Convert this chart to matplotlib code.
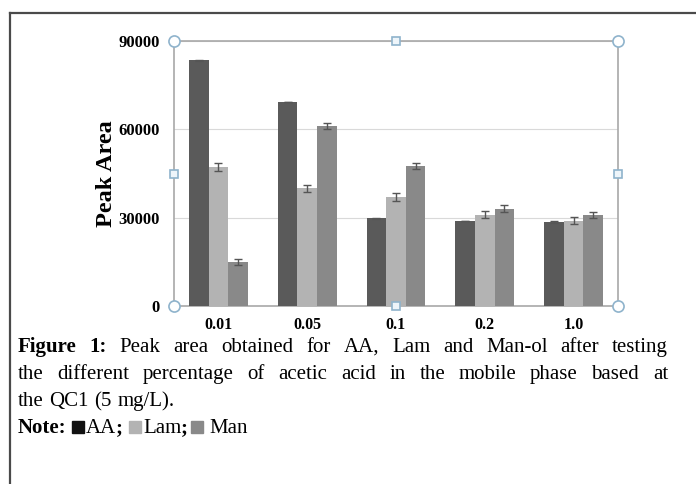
import numpy as np
import matplotlib
matplotlib.use('Agg')
import matplotlib.pyplot as plt
from matplotlib.lines import Line2D
from matplotlib.patches import Rectangle

# data
categories = ['0.01', '0.05', '0.1', '0.2', '1.0']
aa = [83500, 69200, 29800, 28800, 28500]
lam = [47200, 40000, 37000, 31000, 29000]
man = [15000, 61000, 47500, 33000, 31000]
aa_err = [200, 0, 200, 0, 200]
lam_err = [1500, 1200, 1500, 1200, 1200]
man_err = [1100, 1000, 1000, 1200, 1000]

series = [('AA', aa, aa_err, '#5a5a5a'),
          ('Lam', lam, lam_err, '#b3b3b3'),
          ('Man', man, man_err, '#898989')]

serif = 'Liberation Serif'

fig = plt.figure(figsize=(6.96, 4.84), dpi=100)
ax = fig.add_axes([174/696, 1 - 306/484, 444/696, 265/484])

x = np.arange(len(categories))
w = 0.22
for i, (name, vals, err, col) in enumerate(series):
    ax.bar(x + (i - 1)*w, vals, w, color=col, yerr=err, capsize=3,
           error_kw=dict(ecolor='#555555', elinewidth=1, capthick=1), zorder=3)

ax.set_xlim(-0.5, len(categories) - 0.5)
ax.set_ylim(0, 90000)
ax.set_yticks([0, 30000, 60000, 90000])
ax.set_yticklabels(['0', '30000', '60000', '90000'], fontfamily=serif,
                   fontweight='bold', fontsize=12)
ax.set_xticks(x)
ax.set_xticklabels(categories, fontfamily=serif, fontweight='bold', fontsize=11.5)
ax.tick_params(axis='y', length=0, pad=10)
ax.tick_params(axis='x', length=0, pad=8)
ax.grid(axis='y', color='#d9d9d9', lw=0.8, zorder=0)
for s in ax.spines.values():
    s.set_color('#a8a8a8')
    s.set_linewidth(1.2)
ax.set_ylabel('Peak Area', fontfamily=serif, fontweight='bold', fontsize=17.5, labelpad=1)

# selection handles
hc = '#8fb3cc'
for px, py in [(0, 0), (1, 0), (0, 1), (1, 1)]:
    ax.plot(px, py, 'o', ms=8, mfc='white', mec=hc, mew=1.2,
            transform=ax.transAxes, clip_on=False, zorder=5)
for px, py in [(0.5, 0), (0.5, 1), (0, 0.5), (1, 0.5)]:
    ax.plot(px, py, 's', ms=6, mfc='#eef5fa', mec=hc, mew=1.2,
            transform=ax.transAxes, clip_on=False, zorder=5)

# outer frame (left and top)
fx, fy = 10/696, 1 - 13/484
fig.add_artist(Line2D([fx, 1], [fy, fy], color='#4a4a4a', lw=1.6))
fig.add_artist(Line2D([fx, fx], [fy, 0], color='#4a4a4a', lw=1.6))

# caption
fs = 15
renderer = fig.canvas.get_renderer()
space = fs*100/72*0.27


def place(words, y, x0=18, x1=668, justified=True):
    texts = []
    for word, bold in words:
        t = fig.text(0, 0, word, fontfamily=serif, fontsize=fs,
                     fontweight='bold' if bold else 'normal', va='baseline')
        texts.append(t)
    widths = [t.get_window_extent(renderer).width for t in texts]
    if justified and len(texts) > 1:
        gap = (x1 - x0 - sum(widths)) / (len(texts) - 1)
    else:
        gap = space
    cx = x0
    for t, wd in zip(texts, widths):
        t.set_position((cx/696, 1 - y/484))
        cx += wd + gap


line1 = [('Figure', True), ('1:', True)] + [(wd, False) for wd in
         'Peak area obtained for AA, Lam and Man-ol after testing'.split()]
line2 = [(wd, False) for wd in
         'the different percentage of acetic acid in the mobile phase based at'.split()]
line3 = [(wd, False) for wd in 'the QC1 (5 mg/L).'.split()]
place(line1, 352)
place(line2, 379)
place(line3, 406, justified=False)

# note line with colour swatches, laid out left to right
ny = 433
note_items = [('text', 'Note:', True, 5), ('box', '#111111', 2),
              ('text', 'AA', False, 0), ('text', ';', True, 6),
              ('box', '#b3b3b3', 2), ('text', 'Lam', False, 0),
              ('text', ';', True, 3), ('box', '#898989', 6),
              ('text', 'Man', False, 0)]
cx = 18
for item in note_items:
    if item[0] == 'text':
        _, s, bold, after = item
        t = fig.text(cx/696, 1 - ny/484, s, fontfamily=serif, fontsize=fs,
                     fontweight='bold' if bold else 'normal', va='baseline')
        cx += t.get_window_extent(renderer).width + after
    else:
        _, col, after = item
        fig.add_artist(Rectangle((cx/696, 1 - ny/484), 12/696, 12/484, color=col,
                                 transform=fig.transFigure))
        cx += 12 + after

fig.savefig('out.png', dpi=100)
